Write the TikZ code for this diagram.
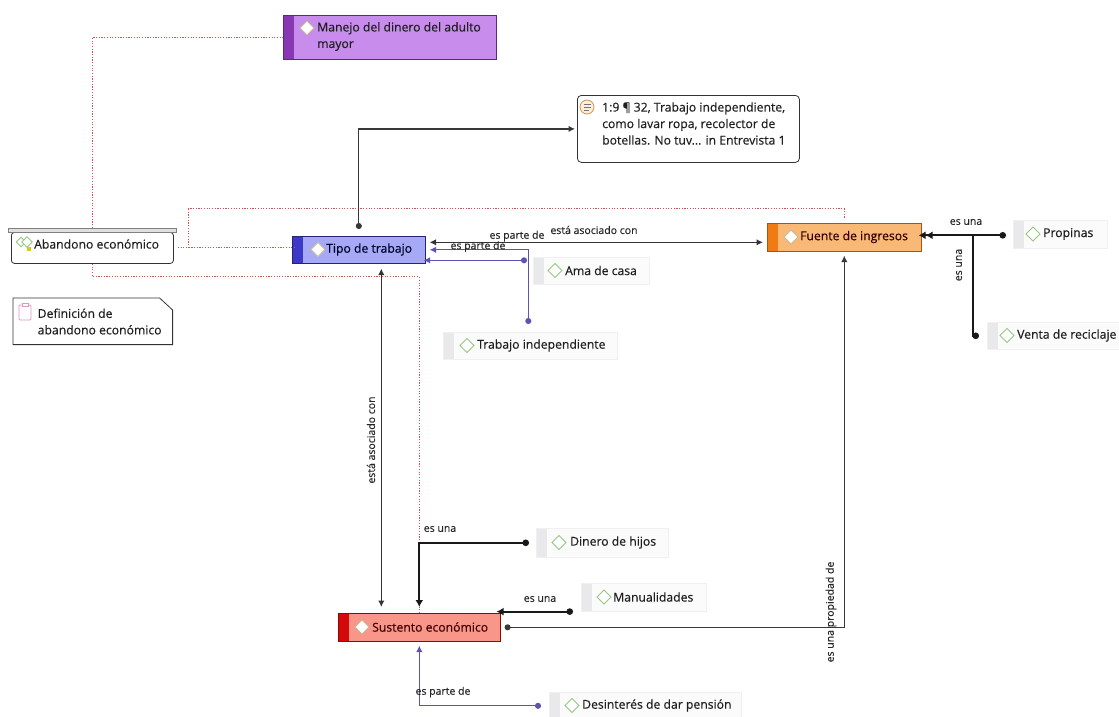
\documentclass[tikz,border=0pt]{standalone}
\usepackage{fontspec}
\setmainfont{Open Sans}[FakeBold=0.35,AutoFakeBold=0.35]
\newfontfamily\lblfont{Open Sans}[FakeBold=0.2]
\usetikzlibrary{shapes.geometric,arrows.meta}
\definecolor{dotred}{RGB}{205,85,85}
\definecolor{purpf}{RGB}{200,140,236}
\definecolor{purps}{RGB}{135,55,175}
\definecolor{tipof}{RGB}{166,170,246}
\definecolor{tipos}{RGB}{62,56,200}
\definecolor{fuef}{RGB}{249,185,118}
\definecolor{fues}{RGB}{240,122,20}
\definecolor{susf}{RGB}{248,150,138}
\definecolor{suss}{RGB}{212,10,10}
\definecolor{rellil}{RGB}{92,84,178}
\definecolor{gstripe}{RGB}{233,233,236}
\definecolor{gfill}{RGB}{251,251,251}
\definecolor{dgreen}{RGB}{150,200,128}
\definecolor{dtan}{RGB}{205,185,150}
\definecolor{qfill}{RGB}{252,238,215}
\definecolor{qdraw}{RGB}{205,150,90}
\definecolor{clipk}{RGB}{222,150,190}
\definecolor{ydot}{RGB}{215,200,30}
\begin{document}
\begin{tikzpicture}[x=1pt,y=-1pt,
  cbox/.style={rectangle, inner sep=0pt, anchor=north west, line width=0.6pt},
  stripe/.style={path picture={\fill[#1] (path picture bounding box.north west) rectangle ([xshift=11pt]path picture bounding box.south west);}},
  gbox/.style={cbox, fill=gfill, draw=black!6, stripe=gstripe, minimum height=28pt},
  ctext/.style={anchor=west, inner sep=0pt, font=\fontsize{12.2}{16.5}\selectfont\bfseries, text=black!88, align=left},
  wdia/.style={diamond, draw=#1, fill=white, line width=0.9pt, inner sep=0pt, minimum width=14.5pt, minimum height=14.5pt},
  lbl/.style={inner sep=0pt, font=\lblfont\fontsize{10.5}{12}\selectfont, text=black!85},
  dotrel/.style={draw=dotred, line width=0.9pt, dash pattern=on 1.2pt off 1.5pt},
  rel/.style={draw=black!78, line width=1.3pt, {Circle[length=6pt]}-{Latex[length=6.5pt,width=6.5pt]}},
  strongrel/.style={draw=black!90, line width=2pt, {Circle[length=6.5pt]}-{Latex[length=7pt,width=8pt]}},
  symrel/.style={draw=black!80, line width=1.3pt, {Latex[length=6.5pt,width=6.5pt]}-{Latex[length=6.5pt,width=6.5pt]}},
  prel/.style={draw=rellil, line width=1.3pt, {Circle[length=6pt]}-{Latex[length=6.5pt,width=6.5pt]}},
]
\useasboundingbox (0,0) rectangle (1119,716);

% ---------- boxes ----------
\node[cbox, fill=purpf, draw=purps!70!black, stripe=purps, minimum width=213pt, minimum height=44pt] (manejo) at (283,15) {};
\node[wdia=dtan] (manejo-i) at (307,28) {};
\node[ctext] (manejo-t) at (317,36.5) {Manejo del dinero del adulto\\mayor};

\node[cbox, draw=black!80, line width=0.8pt, rounded corners=4pt, minimum width=222pt, minimum height=67pt] (quote) at (577,95) {};
\node[circle, draw=qdraw, fill=qfill, line width=0.8pt, minimum size=14pt, inner sep=0pt] (quote-i) at (587,107) {};
\draw[black!55, line width=0.8pt] (583.5,104) -- (590.5,104) (583.5,107) -- (590.5,107) (583.5,110) -- (589,110);
\node[ctext] (quote-t) at (602,123.5) {1:9 ¶ 32, Trabajo independiente,\\como lavar ropa, recolector de\\botellas. No tuv... in Entrevista 1};

\node[cbox, draw=black!80, line width=0.8pt, rounded corners=3pt, minimum width=162pt, minimum height=31pt] (aband) at (11,232) {};
\node[cbox, draw=black!50, fill=black!12, line width=0.6pt, minimum width=168pt, minimum height=4pt] (aband-h) at (8,228) {};
\node[wdia=dgreen, minimum width=10pt, minimum height=10pt] (aband-i1) at (21,242) {};
\node[wdia=dgreen, minimum width=11pt, minimum height=11pt] (aband-i2) at (27,242) {};
\node[fill=ydot, inner sep=0pt, minimum size=4pt] (aband-i3) at (28.5,249) {};
\node[ctext] (aband-t) at (34,244) {Abandono económico};

\node[cbox, minimum width=159pt, minimum height=46pt] (defin) at (13,298) {};
\draw[black!80, line width=0.8pt] (defin.north west) -- ([xshift=-13pt]defin.north east) -- ([yshift=-12pt]defin.north east) -- (defin.south east) -- (defin.south west) -- cycle;
\draw[clipk, line width=0.8pt, rounded corners=1pt] (19,305) rectangle (31,320);
\draw[clipk, line width=0.8pt, fill=white] (22,303) rectangle (28,306);
\node[ctext] (defin-t) at (37.5,321.5) {Definición de\\abandono económico};

\node[cbox, fill=tipof, draw=tipos!60!black, stripe=tipos, minimum width=133pt, minimum height=27pt] (tipo) at (292,236) {};
\node[wdia=dtan] (tipo-i) at (318,249.5) {};
\node[ctext, text=black!85!blue] (tipo-t) at (326,249.5) {Tipo de trabajo};

\node[cbox, fill=fuef, draw=fues!70!black, stripe=fues, minimum width=154pt, minimum height=28pt] (fuente) at (767,223) {};
\node[wdia=dtan] (fuente-i) at (791,237) {};
\node[ctext, text=black!80!red] (fuente-t) at (800,237) {Fuente de ingresos};

\node[cbox, fill=susf, draw=suss!70!black, stripe=suss, minimum width=162pt, minimum height=28pt] (sustento) at (338,613) {};
\node[wdia=dtan] (sustento-i) at (362,627) {};
\node[ctext, text=black!75!red] (sustento-t) at (372,627) {Sustento económico};

\node[gbox, minimum width=94pt] (propinas) at (1013,220) {};
\node[wdia=dgreen] (propinas-i) at (1033,234) {};
\node[ctext] (propinas-t) at (1043,234) {Propinas};

\node[gbox, minimum width=140pt, minimum height=27pt] (venta) at (987,322) {};
\node[wdia=dgreen] (venta-i) at (1007,335.5) {};
\node[ctext] (venta-t) at (1017,335.5) {Venta de reciclaje};

\node[gbox, minimum width=116pt, minimum height=27pt] (ama) at (533,257) {};
\node[wdia=dgreen] (ama-i) at (555,270.5) {};
\node[ctext] (ama-t) at (565,270.5) {Ama de casa};

\node[gbox, minimum width=174pt, minimum height=27pt] (trab) at (443,332) {};
\node[wdia=dgreen] (trab-i) at (467,345.5) {};
\node[ctext] (trab-t) at (477,345.5) {Trabajo independiente};

\node[gbox, minimum width=132pt, minimum height=29pt] (dinero) at (536,528) {};
\node[wdia=dgreen] (dinero-i) at (559,542.5) {};
\node[ctext] (dinero-t) at (570,542.5) {Dinero de hijos};

\node[gbox, minimum width=125pt] (manual) at (581,583) {};
\node[wdia=dgreen] (manual-i) at (604,597) {};
\node[ctext] (manual-t) at (613,597) {Manualidades};

\node[gbox, minimum width=192pt, minimum height=27pt] (desint) at (549,692) {};
\node[wdia=dgreen] (desint-i) at (572,705.5) {};
\node[ctext] (desint-t) at (582,705.5) {Desinterés de dar pensión};

% ---------- dotted links from Abandono económico ----------
\draw[dotrel] (aband-h.north) |- (manejo.west);
\draw[dotrel] ([xshift=4pt]aband.east) -- ([xshift=4pt]aband.east -| tipo.west);
\draw[dotrel] ([xshift=15pt]aband.east) -- ++(0,-39) -| ([yshift=5pt]fuente.north);
\draw[dotrel] (aband.south) -- ++(0,13) -| (sustento.north);

% ---------- relations ----------
\draw[rel, shorten >=2pt] ([yshift=7pt]tipo.north) |- (quote.west);
\draw[symrel, shorten <=4pt, shorten >=4pt] ([yshift=7.5pt]tipo.east) -- ([yshift=7.5pt]tipo.east -| fuente.west);
\draw[prel, shorten >=4pt] ([xshift=-2pt,yshift=8pt]trab.north) |- (tipo.east);
\draw[prel, shorten >=4pt] ([xshift=-6pt,yshift=10.5pt]ama.west) -- ([xshift=-6pt,yshift=10.5pt]ama.west -| tipo.east);
\draw[symrel, shorten <=5pt, shorten >=6pt] ([xshift=22.5pt]tipo.south) -- ([xshift=22.5pt]tipo.south |- sustento.north);
\draw[strongrel, shorten >=6pt] ([xshift=-7pt]dinero.west) -| (sustento.north);
\draw[strongrel, shorten >=4pt] ([xshift=-8pt]manual.south west) -- ([xshift=-8pt]manual.south west -| sustento.east);
\draw[rel, shorten >=4pt] ([xshift=4pt]sustento.east) -| (fuente.south);
\draw[prel, shorten >=4pt] ([xshift=-8pt]desint.west) -| (sustento.south);
\draw[strongrel, shorten >=4pt] ([xshift=-7pt,yshift=-1pt]propinas.west) -- ([xshift=-7pt,yshift=-1pt]propinas.west -| fuente.east);
\draw[strongrel, shorten >=4pt] ([xshift=-8pt]venta.west) -- ++(-6,0) |- ([yshift=2pt]fuente.east);

% ---------- relation labels ----------
\node[lbl] (l-asoc1) at (594,230) {está asociado con};
\node[lbl] (l-parte1) at (517,236) {es parte de};
\node[lbl] (l-parte2) at (478,246.5) {es parte de};
\node[lbl, rotate=90] (l-asoc2) at (371,440) {está asociado con};
\node[lbl] (l-una1) at (440,529) {es una};
\node[lbl] (l-una2) at (540,599) {es una};
\node[lbl, rotate=90] (l-prop) at (831,612) {es una propiedad de};
\node[lbl] (l-parte3) at (443,692) {es parte de};
\node[lbl] (l-una3) at (966,222) {es una};
\node[lbl, rotate=90] (l-una4) at (959,265) {es una};
\end{tikzpicture}
\end{document}
